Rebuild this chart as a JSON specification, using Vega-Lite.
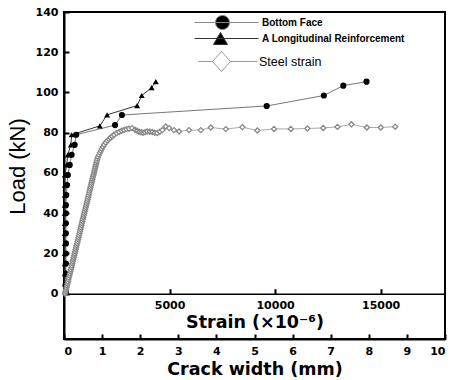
{
  "$schema": "https://vega.github.io/schema/vega-lite/v6.json",
  "width": 381,
  "height": 327,
  "autosize": "none",
  "padding": {"left": 64, "top": 12, "right": 6, "bottom": 41},
  "background": "white",
  "config": {
    "view": {"stroke": "black", "strokeWidth": 2},
    "axis": {
      "grid": false,
      "domainColor": "black",
      "domainWidth": 2,
      "tickColor": "black",
      "tickWidth": 2,
      "tickSize": -5,
      "labelFont": "DejaVu Sans",
      "labelFontWeight": "bold",
      "labelFontSize": 11,
      "labelColor": "black",
      "titleColor": "black"
    },
    "legend": {
      "title": null,
      "orient": "none",
      "padding": 0,
      "symbolSize": 256,
      "symbolStrokeWidth": 1,
      "symbolOpacity": 1,
      "labelOffset": 27,
      "labelColor": "black",
      "labelLimit": 300
    }
  },
  "datasets": {
    "crack": [
      {"series": "Bottom Face", "cw": 0.05, "load": 1},
      {"series": "Bottom Face", "cw": 0.05, "load": 5},
      {"series": "Bottom Face", "cw": 0.05, "load": 10},
      {"series": "Bottom Face", "cw": 0.05, "load": 15},
      {"series": "Bottom Face", "cw": 0.05, "load": 20},
      {"series": "Bottom Face", "cw": 0.05, "load": 25},
      {"series": "Bottom Face", "cw": 0.05, "load": 30},
      {"series": "Bottom Face", "cw": 0.05, "load": 35},
      {"series": "Bottom Face", "cw": 0.05, "load": 40},
      {"series": "Bottom Face", "cw": 0.05, "load": 44},
      {"series": "Bottom Face", "cw": 0.06, "load": 49},
      {"series": "Bottom Face", "cw": 0.08, "load": 54},
      {"series": "Bottom Face", "cw": 0.1, "load": 59},
      {"series": "Bottom Face", "cw": 0.15, "load": 64},
      {"series": "Bottom Face", "cw": 0.2, "load": 69},
      {"series": "Bottom Face", "cw": 0.28, "load": 74},
      {"series": "Bottom Face", "cw": 0.32, "load": 79},
      {"series": "Bottom Face", "cw": 1.34, "load": 83.8},
      {"series": "Bottom Face", "cw": 1.52, "load": 88.8},
      {"series": "Bottom Face", "cw": 5.32, "load": 93.3},
      {"series": "Bottom Face", "cw": 6.82, "load": 98.5},
      {"series": "Bottom Face", "cw": 7.33, "load": 103.4},
      {"series": "Bottom Face", "cw": 7.94, "load": 105.4},
      {"series": "A Longitudinal Reinforcement", "cw": 0.02, "load": 1},
      {"series": "A Longitudinal Reinforcement", "cw": 0.02, "load": 5},
      {"series": "A Longitudinal Reinforcement", "cw": 0.02, "load": 10},
      {"series": "A Longitudinal Reinforcement", "cw": 0.02, "load": 15},
      {"series": "A Longitudinal Reinforcement", "cw": 0.02, "load": 20},
      {"series": "A Longitudinal Reinforcement", "cw": 0.02, "load": 25},
      {"series": "A Longitudinal Reinforcement", "cw": 0.02, "load": 30},
      {"series": "A Longitudinal Reinforcement", "cw": 0.02, "load": 35},
      {"series": "A Longitudinal Reinforcement", "cw": 0.02, "load": 40},
      {"series": "A Longitudinal Reinforcement", "cw": 0.02, "load": 44},
      {"series": "A Longitudinal Reinforcement", "cw": 0.02, "load": 49},
      {"series": "A Longitudinal Reinforcement", "cw": 0.02, "load": 54},
      {"series": "A Longitudinal Reinforcement", "cw": 0.02, "load": 59},
      {"series": "A Longitudinal Reinforcement", "cw": 0.07, "load": 64},
      {"series": "A Longitudinal Reinforcement", "cw": 0.1, "load": 69},
      {"series": "A Longitudinal Reinforcement", "cw": 0.18, "load": 74},
      {"series": "A Longitudinal Reinforcement", "cw": 0.2, "load": 79},
      {"series": "A Longitudinal Reinforcement", "cw": 0.94, "load": 83.4},
      {"series": "A Longitudinal Reinforcement", "cw": 1.13, "load": 88.9},
      {"series": "A Longitudinal Reinforcement", "cw": 1.92, "load": 93.5},
      {"series": "A Longitudinal Reinforcement", "cw": 2.04, "load": 98.5},
      {"series": "A Longitudinal Reinforcement", "cw": 2.3, "load": 102.4},
      {"series": "A Longitudinal Reinforcement", "cw": 2.41, "load": 105.4}
    ],
    "steel": [
      {"series": "Steel strain", "strain": 50, "load": 0},
      {"series": "Steel strain", "strain": 72, "load": 1},
      {"series": "Steel strain", "strain": 95, "load": 2},
      {"series": "Steel strain", "strain": 118, "load": 3},
      {"series": "Steel strain", "strain": 140, "load": 4},
      {"series": "Steel strain", "strain": 162, "load": 5},
      {"series": "Steel strain", "strain": 185, "load": 6},
      {"series": "Steel strain", "strain": 208, "load": 7},
      {"series": "Steel strain", "strain": 230, "load": 8},
      {"series": "Steel strain", "strain": 255, "load": 9},
      {"series": "Steel strain", "strain": 280, "load": 10},
      {"series": "Steel strain", "strain": 302, "load": 11},
      {"series": "Steel strain", "strain": 325, "load": 12},
      {"series": "Steel strain", "strain": 348, "load": 13},
      {"series": "Steel strain", "strain": 370, "load": 14},
      {"series": "Steel strain", "strain": 392, "load": 15},
      {"series": "Steel strain", "strain": 415, "load": 16},
      {"series": "Steel strain", "strain": 438, "load": 17},
      {"series": "Steel strain", "strain": 460, "load": 18},
      {"series": "Steel strain", "strain": 482, "load": 19},
      {"series": "Steel strain", "strain": 505, "load": 20},
      {"series": "Steel strain", "strain": 528, "load": 21},
      {"series": "Steel strain", "strain": 550, "load": 22},
      {"series": "Steel strain", "strain": 572, "load": 23},
      {"series": "Steel strain", "strain": 595, "load": 24},
      {"series": "Steel strain", "strain": 620, "load": 25},
      {"series": "Steel strain", "strain": 645, "load": 26},
      {"series": "Steel strain", "strain": 668, "load": 27},
      {"series": "Steel strain", "strain": 690, "load": 28},
      {"series": "Steel strain", "strain": 712, "load": 29},
      {"series": "Steel strain", "strain": 735, "load": 30},
      {"series": "Steel strain", "strain": 758, "load": 31},
      {"series": "Steel strain", "strain": 780, "load": 32},
      {"series": "Steel strain", "strain": 802, "load": 33},
      {"series": "Steel strain", "strain": 825, "load": 34},
      {"series": "Steel strain", "strain": 848, "load": 35},
      {"series": "Steel strain", "strain": 870, "load": 36},
      {"series": "Steel strain", "strain": 892, "load": 37},
      {"series": "Steel strain", "strain": 915, "load": 38},
      {"series": "Steel strain", "strain": 938, "load": 39},
      {"series": "Steel strain", "strain": 960, "load": 40},
      {"series": "Steel strain", "strain": 985, "load": 41},
      {"series": "Steel strain", "strain": 1010, "load": 42},
      {"series": "Steel strain", "strain": 1032, "load": 43},
      {"series": "Steel strain", "strain": 1055, "load": 44},
      {"series": "Steel strain", "strain": 1078, "load": 45},
      {"series": "Steel strain", "strain": 1100, "load": 46},
      {"series": "Steel strain", "strain": 1122, "load": 47},
      {"series": "Steel strain", "strain": 1145, "load": 48},
      {"series": "Steel strain", "strain": 1168, "load": 49},
      {"series": "Steel strain", "strain": 1190, "load": 50},
      {"series": "Steel strain", "strain": 1212, "load": 51},
      {"series": "Steel strain", "strain": 1235, "load": 52},
      {"series": "Steel strain", "strain": 1258, "load": 53},
      {"series": "Steel strain", "strain": 1280, "load": 54},
      {"series": "Steel strain", "strain": 1302, "load": 55},
      {"series": "Steel strain", "strain": 1325, "load": 56},
      {"series": "Steel strain", "strain": 1348, "load": 57},
      {"series": "Steel strain", "strain": 1370, "load": 58},
      {"series": "Steel strain", "strain": 1395, "load": 59},
      {"series": "Steel strain", "strain": 1420, "load": 60},
      {"series": "Steel strain", "strain": 1442, "load": 61},
      {"series": "Steel strain", "strain": 1465, "load": 62},
      {"series": "Steel strain", "strain": 1488, "load": 63},
      {"series": "Steel strain", "strain": 1510, "load": 64},
      {"series": "Steel strain", "strain": 1532, "load": 65},
      {"series": "Steel strain", "strain": 1555, "load": 66},
      {"series": "Steel strain", "strain": 1582, "load": 67},
      {"series": "Steel strain", "strain": 1610, "load": 68},
      {"series": "Steel strain", "strain": 1655, "load": 69},
      {"series": "Steel strain", "strain": 1700, "load": 70},
      {"series": "Steel strain", "strain": 1745, "load": 71},
      {"series": "Steel strain", "strain": 1790, "load": 72},
      {"series": "Steel strain", "strain": 1845, "load": 73},
      {"series": "Steel strain", "strain": 1900, "load": 74},
      {"series": "Steel strain", "strain": 1975, "load": 75},
      {"series": "Steel strain", "strain": 2050, "load": 76},
      {"series": "Steel strain", "strain": 2130, "load": 76.8},
      {"series": "Steel strain", "strain": 2200, "load": 77.5},
      {"series": "Steel strain", "strain": 2290, "load": 78.3},
      {"series": "Steel strain", "strain": 2370, "load": 79},
      {"series": "Steel strain", "strain": 2490, "load": 79.8},
      {"series": "Steel strain", "strain": 2610, "load": 80.4},
      {"series": "Steel strain", "strain": 2730, "load": 81},
      {"series": "Steel strain", "strain": 2845, "load": 81.4},
      {"series": "Steel strain", "strain": 2960, "load": 81.8},
      {"series": "Steel strain", "strain": 3080, "load": 82},
      {"series": "Steel strain", "strain": 3220, "load": 82.3},
      {"series": "Steel strain", "strain": 3365, "load": 81.5},
      {"series": "Steel strain", "strain": 3460, "load": 81},
      {"series": "Steel strain", "strain": 3555, "load": 80.5},
      {"series": "Steel strain", "strain": 3650, "load": 80.2},
      {"series": "Steel strain", "strain": 3745, "load": 80},
      {"series": "Steel strain", "strain": 3840, "load": 80.3},
      {"series": "Steel strain", "strain": 3935, "load": 80.6},
      {"series": "Steel strain", "strain": 4060, "load": 80.5},
      {"series": "Steel strain", "strain": 4185, "load": 80.4},
      {"series": "Steel strain", "strain": 4300, "load": 80},
      {"series": "Steel strain", "strain": 4420, "load": 79.8},
      {"series": "Steel strain", "strain": 4540, "load": 80.5},
      {"series": "Steel strain", "strain": 4660, "load": 81.3},
      {"series": "Steel strain", "strain": 4820, "load": 83.1},
      {"series": "Steel strain", "strain": 4980, "load": 82.3},
      {"series": "Steel strain", "strain": 5210, "load": 81.3},
      {"series": "Steel strain", "strain": 5450, "load": 80.6},
      {"series": "Steel strain", "strain": 5925, "load": 81.3},
      {"series": "Steel strain", "strain": 6480, "load": 81.3},
      {"series": "Steel strain", "strain": 6955, "load": 82.6},
      {"series": "Steel strain", "strain": 7665, "load": 81.8},
      {"series": "Steel strain", "strain": 8450, "load": 82.8},
      {"series": "Steel strain", "strain": 9160, "load": 81.1},
      {"series": "Steel strain", "strain": 9950, "load": 81.9},
      {"series": "Steel strain", "strain": 10745, "load": 81.9},
      {"series": "Steel strain", "strain": 11530, "load": 82.1},
      {"series": "Steel strain", "strain": 12280, "load": 82.4},
      {"series": "Steel strain", "strain": 12955, "load": 82.9},
      {"series": "Steel strain", "strain": 13620, "load": 84.2},
      {"series": "Steel strain", "strain": 14350, "load": 82.6},
      {"series": "Steel strain", "strain": 15010, "load": 82.6},
      {"series": "Steel strain", "strain": 15690, "load": 83.0}
    ]
  },
  "encoding": {
    "y": {
      "field": "load",
      "type": "quantitative",
      "scale": {"domain": [-22.5, 140], "nice": false, "zero": false},
      "axis": {
        "values": [0, 20, 40, 60, 80, 100, 120, 140],
        "labelPadding": 11,
        "title": "Load (kN)",
        "titleFont": "Liberation Sans",
        "titleFontSize": 22,
        "titleFontWeight": "normal",
        "titleY": 154,
        "titlePadding": 6
      }
    }
  },
  "layer": [
    {
      "data": {"name": "crack"},
      "encoding": {
        "x": {
          "field": "cw",
          "type": "quantitative",
          "scale": {"domain": [0, 10], "nice": false, "zero": false},
          "axis": {
            "orient": "bottom",
            "values": [0, 1, 2, 3, 4, 5, 6, 7, 8, 9, 10],
            "labelPadding": 11,
            "title": "Crack width (mm)",
            "titleFont": "DejaVu Sans",
            "titleFontSize": 17.5,
            "titleFontWeight": "bold",
            "titlePadding": 4
          }
        }
      },
      "layer": [
        {
          "transform": [{"filter": "datum.series === 'Bottom Face'"}],
          "mark": {"type": "line", "color": "#777777", "strokeWidth": 1},
          "encoding": {"order": {"field": "load", "type": "quantitative"}}
        },
        {
          "transform": [{"filter": "datum.series === 'A Longitudinal Reinforcement'"}],
          "mark": {"type": "line", "color": "#333333", "strokeWidth": 1},
          "encoding": {"order": {"field": "load", "type": "quantitative"}}
        },
        {
          "transform": [{"filter": "datum.series === 'Bottom Face'"}],
          "mark": {"type": "point", "shape": "circle", "filled": true, "size": 38, "opacity": 1},
          "encoding": {
            "fill": {
              "field": "series",
              "type": "nominal",
              "scale": {"domain": ["Bottom Face"], "range": ["black"]},
              "legend": {
                "legendX": 154,
                "legendY": 2,
                "symbolType": "M-4,0H4M0.375,0A0.875,0.875 0 1 1 -1.375,0A0.875,0.875 0 1 1 0.375,0Z",
                "symbolStrokeColor": "#888888",
                "labelFont": "Liberation Sans",
                "labelFontSize": 10,
                "labelFontWeight": "bold"
              }
            }
          }
        },
        {
          "transform": [{"filter": "datum.series === 'A Longitudinal Reinforcement'"}],
          "mark": {"type": "point", "shape": "triangle-up", "filled": true, "size": 36, "opacity": 1},
          "encoding": {
            "fill": {
              "field": "series",
              "type": "nominal",
              "scale": {"domain": ["A Longitudinal Reinforcement"], "range": ["black"]},
              "legend": {
                "legendX": 154,
                "legendY": 18,
                "symbolType": "M-4,0H4M-0.75,-0.75L0.125,0.75L-1.625,0.75Z",
                "symbolStrokeColor": "#333333",
                "labelFont": "Liberation Sans",
                "labelFontSize": 10,
                "labelFontWeight": "bold"
              }
            }
          }
        }
      ],
      "resolve": {"scale": {"fill": "independent"}, "legend": {"fill": "independent"}}
    },
    {
      "data": {"name": "steel"},
      "encoding": {
        "x": {
          "field": "strain",
          "type": "quantitative",
          "scale": {"domain": [0, 18050], "nice": false, "zero": false},
          "axis": {
            "orient": "bottom",
            "offset": -45.3,
            "values": [5000, 10000, 15000],
            "format": "d",
            "labelPadding": 11,
            "domainWidth": 1.5,
            "title": "Strain (×10⁻⁶)",
            "titleFont": "DejaVu Sans",
            "titleFontSize": 17.5,
            "titleFontWeight": "bold",
            "titlePadding": 3
          }
        }
      },
      "layer": [
        {
          "mark": {"type": "line", "color": "#aaaaaa", "strokeWidth": 1},
          "encoding": {"order": {"field": "strain", "type": "quantitative"}}
        },
        {
          "mark": {"type": "point", "shape": "diamond", "filled": true, "stroke": "#888888", "strokeWidth": 1.3, "size": 26, "opacity": 1},
          "encoding": {
            "fill": {
              "field": "series",
              "type": "nominal",
              "scale": {"domain": ["Steel strain"], "range": ["white"]},
              "legend": {
                "legendX": 154,
                "legendY": 41,
                "symbolType": "M-3.5,0H-1.75M0.5,0H3.875M-0.625,-1.25L0.5,0L-0.625,1.25L-1.75,0Z",
                "symbolStrokeColor": "#999999",
                "labelFont": "Liberation Sans",
                "labelFontSize": 12.5,
                "labelFontWeight": "normal",
                "labelOffset": 24
              }
            }
          }
        }
      ]
    }
  ],
  "resolve": {
    "scale": {"x": "independent", "fill": "independent"},
    "axis": {"x": "independent"},
    "legend": {"fill": "independent"}
  }
}
